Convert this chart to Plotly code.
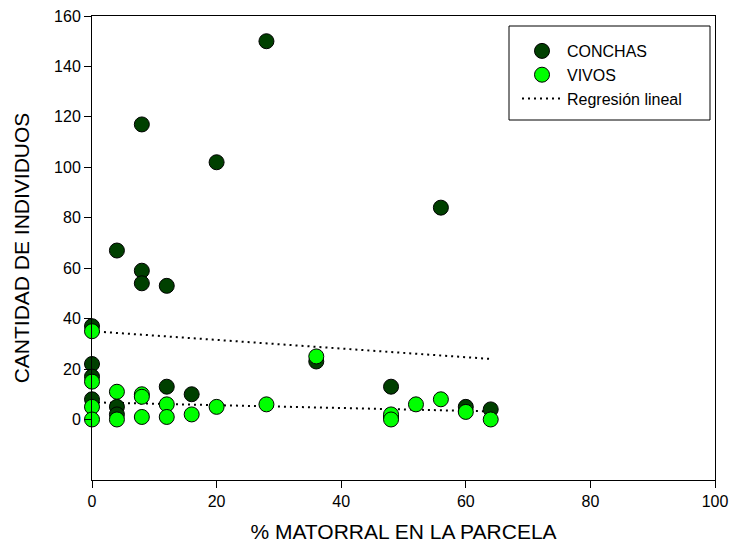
import plotly.graph_objects as go

# Plot cover (% shrubland) and individual counts
conchas_x = [28, 8, 20, 56, 4, 8, 8, 12, 0, 36, 0, 0, 12, 16, 0, 4, 4, 48, 48, 60, 64]
conchas_y = [150, 117, 102, 84, 67, 59, 54, 53, 37, 23, 22, 17, 13, 10, 8, 5, 2, 13, 1, 5, 4]

vivos_x = [0, 0, 0, 0, 4, 4, 8, 8, 8, 12, 12, 16, 20, 28, 36, 48, 48, 52, 56, 60, 64]
vivos_y = [35, 15, 5, 0, 11, 0, 10, 9, 1, 6, 1, 2, 5, 6, 25, 2, 0, 6, 8, 3, 0]

# Linear regression lines (end points)
reg_x = [0, 64]
reg_conchas = [35, 24]
reg_vivos = [6.8, 3.2]

x_ticks = [0, 20, 40, 60, 80, 100]
y_ticks = [0, 20, 40, 60, 80, 100, 120, 140, 160]

FONT = "Liberation Sans, Arial, sans-serif"
DARK = "rgb(0,64,0)"
LIME = "rgb(0,255,0)"

# plot area in pixels
L, R, T, B = 92, 715, 16, 480
W, H = R - L, B - T


def px(x):
    return (x - L) / W


def py(y):
    return (B - y) / H


fig = go.Figure()

dot = dict(color="black", width=2, dash="2px,4px")
fig.add_trace(go.Scatter(x=reg_x, y=reg_conchas, mode="lines", line=dot,
                         name="Regresión lineal", legendrank=3, cliponaxis=False))
fig.add_trace(go.Scatter(x=reg_x, y=reg_vivos, mode="lines", line=dot,
                         showlegend=False, cliponaxis=False))

marker_line = dict(color="black", width=1)
fig.add_trace(go.Scatter(x=conchas_x, y=conchas_y, mode="markers", name="CONCHAS",
                         legendrank=1, cliponaxis=False,
                         marker=dict(size=15, color=DARK, line=marker_line)))
fig.add_trace(go.Scatter(x=vivos_x, y=vivos_y, mode="markers", name="VIVOS",
                         legendrank=2, cliponaxis=False,
                         marker=dict(size=15, color=LIME, line=marker_line)))

axis_common = dict(showline=True, linecolor="black", linewidth=1, mirror=True,
                   ticks="outside", ticklen=7, tickcolor="black", showgrid=False,
                   zeroline=False, automargin=False,
                   tickfont=dict(family=FONT, size=16, color="black"))

fig.update_xaxes(range=[0, 100], tickvals=x_ticks, **axis_common,
                 title=dict(text="% MATORRAL EN LA PARCELA",
                            font=dict(family=FONT, size=21, color="black"), standoff=20))
fig.update_yaxes(range=[-24, 160], tickvals=y_ticks, **axis_common,
                 title=dict(text="CANTIDAD DE INDIVIDUOS",
                            font=dict(family=FONT, size=21, color="black"), standoff=18))

# Legend frame
fig.add_shape(type="rect", xref="paper", yref="paper",
              x0=px(509), x1=px(710), y0=py(120), y1=py(26),
              line=dict(color="black", width=1), fillcolor="white", layer="below")

fig.update_layout(
    width=730, height=543,
    margin=dict(l=L, r=730 - R, t=T, b=543 - B),
    paper_bgcolor="white", plot_bgcolor="white",
    font=dict(family=FONT, size=16, color="black"),
    legend=dict(x=px(517), y=py(34), xanchor="left", yanchor="top",
                bgcolor="rgba(0,0,0,0)", borderwidth=0, itemwidth=40,
                font=dict(family=FONT, size=16, color="black"), tracegroupgap=0),
)

fig.write_html("out.html")
